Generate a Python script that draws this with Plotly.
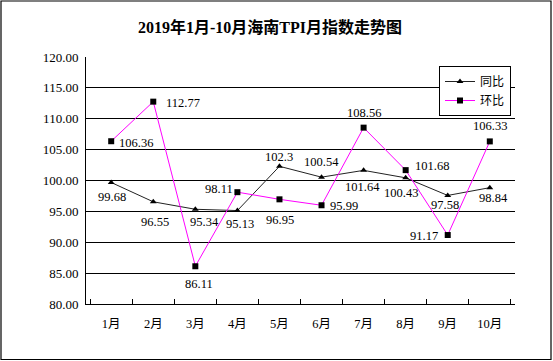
import plotly.graph_objects as go

months = ["1月", "2月", "3月", "4月", "5月", "6月", "7月", "8月", "9月", "10月"]
tongbi = [99.68, 96.55, 95.34, 95.13, 102.3, 100.54, 101.64, 100.43, 97.58, 98.84]
huanbi = [106.36, 112.77, 86.11, 98.11, 96.95, 95.99, 108.56, 101.68, 91.17, 106.33]
tongbi_labels = ["99.68", "96.55", "95.34", "95.13", "102.3", "100.54", "101.64", "100.43", "97.58", "98.84"]
huanbi_labels = ["106.36", "112.77", "86.11", "98.11", "96.95", "95.99", "108.56", "101.68", "91.17", "106.33"]

# label offsets (pixels: dx right, dy down) relative to each point
tongbi_off = [(1, 15), (2, 20), (9, 13), (3, 13), (0, -9), (0, -15), (-1, 17), (-5, 15), (-3, 10), (4, 10)]
huanbi_off = [(25, 2), (30, 1), (4, 18), (-18, -3), (1, 21), (22, 1), (0, -15), (26, -4), (-24, 1), (0, -15)]

FONT = "Liberation Serif, Noto Sans CJK SC, serif"

fig = go.Figure()
# invisible trace on secondary axis for gridlines
fig.add_trace(go.Scatter(x=months, y=tongbi, yaxis="y2", mode="none",
                         showlegend=False, hoverinfo="skip"))
fig.add_trace(go.Scatter(
    x=months, y=tongbi, name="同比", mode="lines+markers",
    line=dict(color="#222222", width=1),
    marker=dict(symbol="triangle-up", size=6, color="#000000"),
))
fig.add_trace(go.Scatter(
    x=months, y=huanbi, name="环比", mode="lines+markers",
    line=dict(color="#FF00FF", width=1),
    marker=dict(symbol="square", size=6, color="#000000"),
))

annotations = []
for m, v, t, (dx, dy) in zip(months, tongbi, tongbi_labels, tongbi_off):
    annotations.append(dict(x=m, y=v, text=t, showarrow=False, xshift=dx, yshift=-dy,
                            font=dict(family=FONT, size=12.5, color="#000")))
for m, v, t, (dx, dy) in zip(months, huanbi, huanbi_labels, huanbi_off):
    annotations.append(dict(x=m, y=v, text=t, showarrow=False, xshift=dx, yshift=-dy,
                            font=dict(family=FONT, size=12.5, color="#000")))

L, R, T, B = 86, 38, 57, 57
W, H = 553, 361
pw, ph = W - L - R, H - T - B

fig.update_layout(
    width=W, height=H, autosize=False,
    margin=dict(l=L, r=R, t=T, b=B, pad=0),
    paper_bgcolor="white", plot_bgcolor="white",
    font=dict(family=FONT, size=12.5, color="#000"),
    title=dict(text="<b>2019年1月-10月海南TPI月指数走势图</b>",
               x=270 / W, xref="container", xanchor="center",
               y=1 - 27 / H, yref="container", yanchor="middle",
               font=dict(family=FONT, size=16, color="#000")),
    xaxis=dict(type="category", showgrid=False, showline=True, linecolor="#000", linewidth=1,
               ticks="inside", ticklen=5, tickcolor="#000", tickson="boundaries",
               tickfont=dict(size=12.5), ticklabelstandoff=8),
    yaxis=dict(range=[80, 120], dtick=5, tickformat=".2f", showgrid=False,
               showline=True, linecolor="#000", linewidth=1,
               ticks="inside", ticklen=5, tickcolor="#000", zeroline=False,
               tickfont=dict(size=13), ticklabelstandoff=4),
    yaxis2=dict(range=[80, 120], overlaying="y", tickvals=[85, 90, 95, 100, 105, 110, 115],
                showgrid=True, gridcolor="#000", gridwidth=1, showticklabels=False,
                ticks="", showline=False, zeroline=False, side="left"),
    legend=dict(x=(439 - L) / pw, y=(H - B - 66) / ph, xanchor="left", yanchor="top",
                bgcolor="white", bordercolor="#000", borderwidth=1,
                font=dict(family=FONT, size=12), itemwidth=30, tracegroupgap=0),
    annotations=annotations,
    shapes=[dict(type="rect", xref="paper", yref="paper", layer="above",
                 x0=(1 - L) / pw, x1=(551 - L) / pw,
                 y0=(H - B - 359.5) / ph, y1=(H - B - 1) / ph,
                 line=dict(color="#000", width=1.2), fillcolor="rgba(0,0,0,0)")],
    showlegend=True,
)

fig.write_html("out.html", config={"displayModeBar": False},
               post_script="document.body.style.margin='0';document.body.style.overflow='hidden';")
